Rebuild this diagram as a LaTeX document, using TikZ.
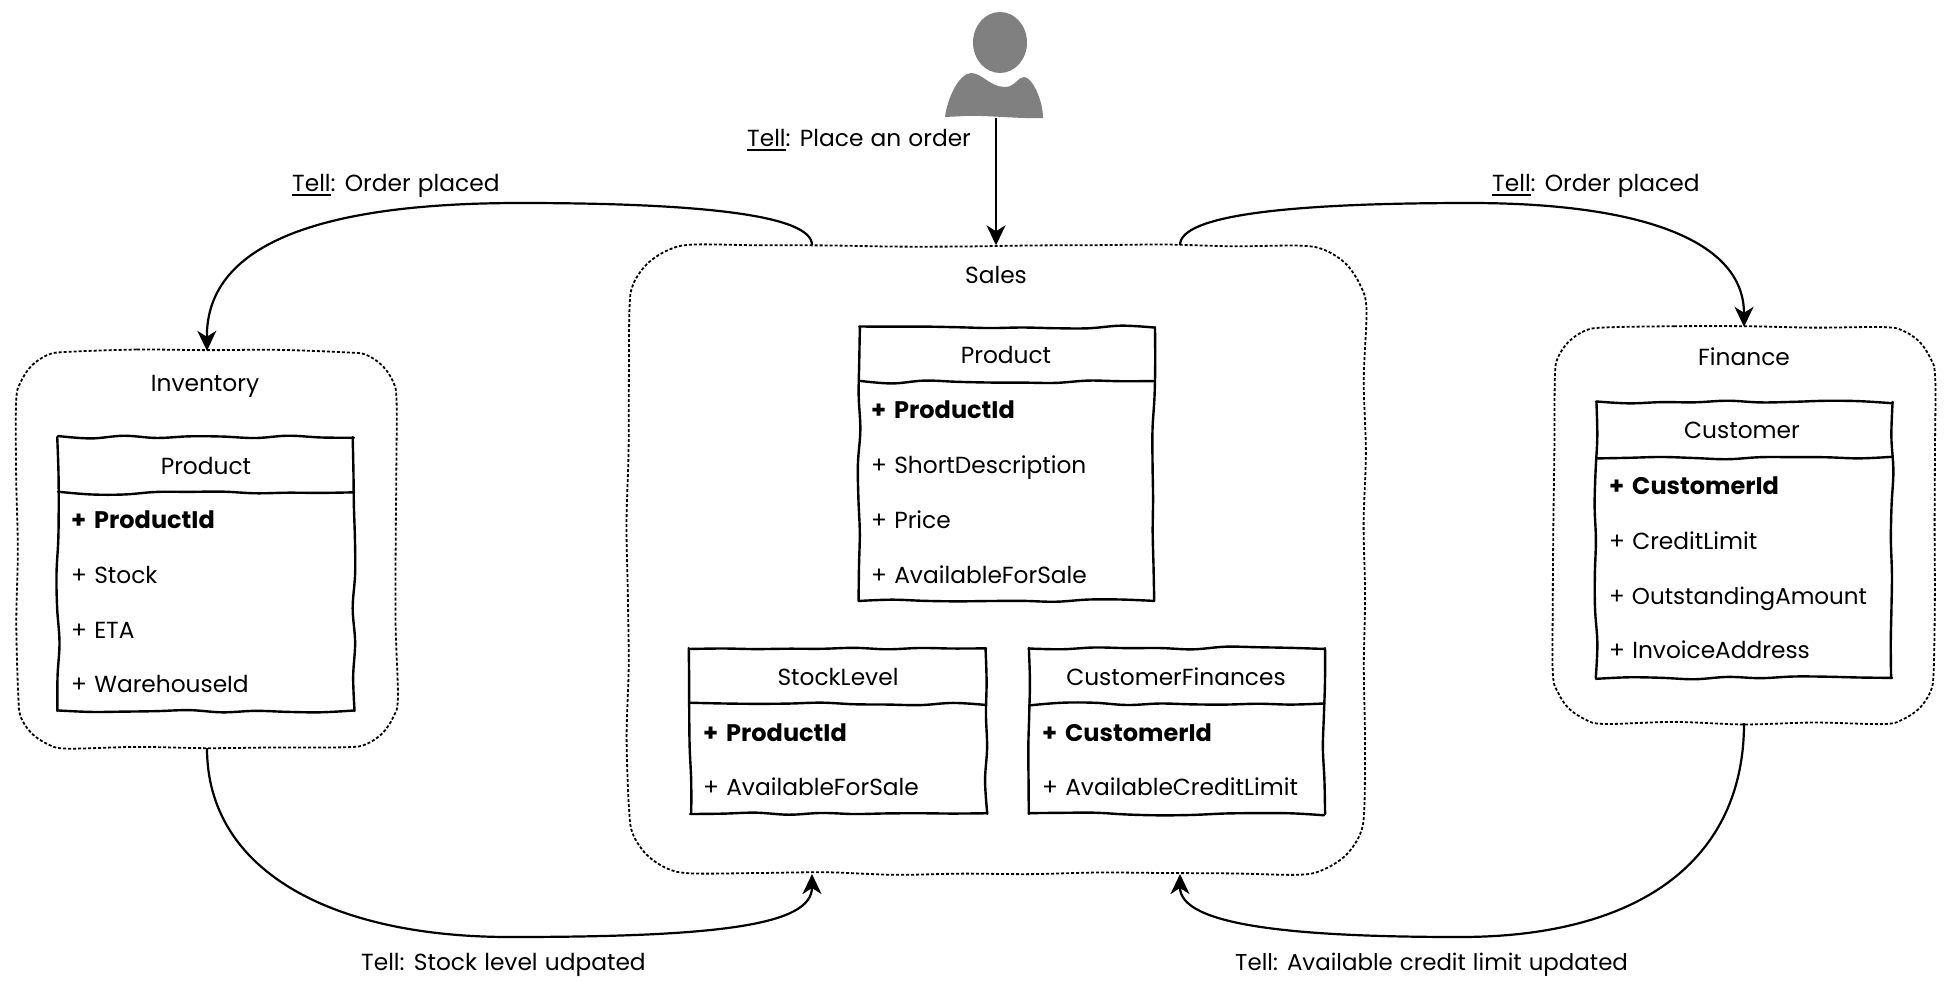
\documentclass[tikz,border=0pt]{standalone}
\usepackage{fontspec}
\setmainfont[WordSpace=1.15]{Poppins}
\usetikzlibrary{arrows.meta,shapes.geometric}
\definecolor{persongray}{HTML}{808080}
\tikzset{
  x=1pt,y=-1pt,
  txt/.style={font=\fontsize{23.3}{26}\selectfont,inner sep=0pt,text=black,text height=21pt,text depth=5pt},
  rowtxt/.style={txt,anchor=west},
  groupbox/.style={inner sep=0pt},
  groupline/.style={draw=black,line width=1.8pt,dash pattern=on 3pt off 2pt},
  tablebox/.style={inner sep=0pt},
  wob/.style={draw=black,line width=2.4pt,line cap=round},
  conn/.style={draw=black,line width=2.2pt},
  arr/.style={conn,-{Stealth[length=20pt,width=19pt,inset=6pt]}}
}
\newcommand{\tl}{\setbox0\hbox{Tell}\rlap{\raisebox{-4.5pt}{\rule{\wd0}{1.8pt}}}\box0}
\newcommand{\keyrow}[1]{\fontsize{24}{26}\selectfont\bfseries +\hspace{0.33em}#1}
\newcommand{\addrun}[5]{%
  \pgfmathtruncatemacro\nn{max(1,round(veclen(#3-#1,#4-#2)/#5))}%
  \foreach \i in {0,...,\nn}{%
    \pgfmathsetmacro\px{#1+(#3-#1)*\i/\nn+1.5*rand*(#2==#4?0:1)}%
    \pgfmathsetmacro\py{#2+(#4-#2)*\i/\nn+1.5*rand*(#1==#3?0:1)}%
    \xdef\pts{\pts(\px,\py)}}}
\newcommand{\addarc}[4]{% centre x, centre y, radius, start angle; quarter turn clockwise on screen
  \foreach \f in {0.25,0.5,0.75}{%
    \pgfmathsetmacro\aa{#4-90*\f}%
    \pgfmathsetmacro\px{#1+#3*cos(\aa)}%
    \pgfmathsetmacro\py{#2-#3*sin(\aa)}%
    \xdef\pts{\pts(\px,\py)}}}
\newcommand{\groupframe}[5]{% x1 y1 x2 y2 radius
  \gdef\pts{}%
  \pgfmathsetmacro\xa{#1+#5}\pgfmathsetmacro\xb{#3-#5}%
  \pgfmathsetmacro\ya{#2+#5}\pgfmathsetmacro\yb{#4-#5}%
  \addrun{\xa}{#2}{\xb}{#2}{70}\addarc{\xb}{\ya}{#5}{90}%
  \addrun{#3}{\ya}{#3}{\yb}{70}\addarc{\xb}{\yb}{#5}{0}%
  \addrun{\xb}{#4}{\xa}{#4}{70}\addarc{\xa}{\yb}{#5}{-90}%
  \addrun{#1}{\yb}{#1}{\ya}{70}\addarc{\xa}{\ya}{#5}{180}%
  \edef\doit{\noexpand\draw[groupline] plot[smooth cycle,tension=0.55] coordinates {\pts};}\doit}
\newcommand{\wavy}[4]{%
  \gdef\pts{}\addrun{#1}{#2}{#3}{#4}{34}%
  \edef\doit{\noexpand\draw[wob] plot[smooth,tension=0.6] coordinates {\pts};}\doit}
\newcommand{\tableframe}[5]{% x1 y1 x2 y2 header line y
  \wavy{#1}{#2}{#3}{#2}\wavy{#3}{#2}{#3}{#4}\wavy{#3}{#4}{#1}{#4}\wavy{#1}{#4}{#1}{#2}\wavy{#1}{#5}{#3}{#5}}
\begin{document}
\begin{tikzpicture}
\pgfmathsetseed{4217}
\path[fill=white] (0,0) rectangle (1950,983);
\useasboundingbox (0,0) rectangle (1950,983);
% groups
\node[groupbox,minimum width=380pt,minimum height=397pt] (inv) at (207,549.5) {};
\node[groupbox,minimum width=736pt,minimum height=628pt] (sales) at (996,559.5) {};
\node[groupbox,minimum width=380pt,minimum height=396pt] (fin) at (1744,525) {};
\groupframe{17}{351}{397}{748}{50}
\groupframe{628}{245.5}{1365}{873.5}{64}
\groupframe{1554}{327}{1934}{723}{50}
\node[txt] (invt) at (205,383) {Inventory};
\node[txt] (salest) at (996,275) {Sales};
\node[txt] (fint) at (1744,357) {Finance};
% Inventory Product
\node[tablebox,minimum width=296pt,minimum height=274pt] (t1) at (206,574) {};
\tableframe{58}{437}{354}{711}{493}
\node[txt] (t1h) at (206,466) {Product};
\node[rowtxt] (t1a) at (71,520) {\keyrow{ProductId}};
\node[rowtxt] (t1b) at (71,575) {+ Stock};
\node[rowtxt] (t1c) at (71,630) {+ ETA};
\node[rowtxt] (t1d) at (71,684) {+ WarehouseId};
% Sales Product
\node[tablebox,minimum width=295pt,minimum height=274pt] (t2) at (1006.5,464) {};
\tableframe{859}{327}{1154}{601}{382}
\node[txt] (t2h) at (1006,355) {Product};
\node[rowtxt] (t2a) at (871,410) {\keyrow{ProductId}};
\node[rowtxt] (t2b) at (871,465) {+ ShortDescription};
\node[rowtxt] (t2c) at (871,520) {+ Price};
\node[rowtxt] (t2d) at (871,575) {+ AvailableForSale};
% StockLevel
\node[tablebox,minimum width=296pt,minimum height=166pt] (t3) at (838,731) {};
\tableframe{690}{648}{986}{814}{704}
\node[txt] (t3h) at (838,677) {StockLevel};
\node[rowtxt] (t3a) at (703,733) {\keyrow{ProductId}};
\node[rowtxt] (t3b) at (703,787) {+ AvailableForSale};
% CustomerFinances
\node[tablebox,minimum width=295pt,minimum height=166pt] (t4) at (1176.5,731) {};
\tableframe{1029}{648}{1324}{814}{704}
\node[txt] (t4h) at (1176,677) {CustomerFinances};
\node[rowtxt] (t4a) at (1042,733) {\keyrow{CustomerId}};
\node[rowtxt] (t4b) at (1042,787) {+ AvailableCreditLimit};
% Customer
\node[tablebox,minimum width=296pt,minimum height=276pt] (t5) at (1744,540) {};
\tableframe{1596}{402}{1892}{678}{458}
\node[txt] (t5h) at (1742,430) {Customer};
\node[rowtxt] (t5a) at (1609,486) {\keyrow{CustomerId}};
\node[rowtxt] (t5b) at (1609,541) {+ CreditLimit};
\node[rowtxt,font=\fontsize{23}{26}\selectfont] (t5c) at (1609,596) {+ OutstandingAmount};
\node[rowtxt] (t5d) at (1609,650) {+ InvoiceAddress};
% person
\node[ellipse,fill=persongray,minimum width=54pt,minimum height=61pt,inner sep=0pt] (head) at (1000,42.5) {};
\fill[persongray] (945,117) .. controls (947,100) and (958,74) .. (971,73)
  .. controls (982,73) and (990,87) .. (1005,87)
  .. controls (1015,87) and (1018,77) .. (1024,77)
  .. controls (1032,77) and (1043,100) .. (1043,118)
  .. controls (1020,119) and (985,115) .. (965,116) -- cycle;
\coordinate (personfoot) at (996,118);
% connector ends
\coordinate (sl) at (812,245);
\coordinate (sr) at (1180,245);
\coordinate (bl) at (812,874);
\coordinate (br) at (1180,874);
% connectors
\draw[arr] (personfoot) -- (sales.north);
\draw[arr] (sl) .. controls (812,215) and (700,203) .. (520,203) .. controls (330,203) and (206,240) .. (inv.north);
\draw[arr] (sr) .. controls (1180,215) and (1290,203) .. (1470,203) .. controls (1640,203) and (1744,240) .. (fin.north);
\draw[arr] (inv.south) .. controls (207,870) and (330,937) .. (510,937) .. controls (720,937) and (812,925) .. (bl);
\draw[arr] (fin.south) .. controls (1744,860) and (1640,937) .. (1460,937) .. controls (1290,937) and (1180,925) .. (br);
% labels
\node[rowtxt] (l1) at (747,138) {\tl: Place an order};
\node[rowtxt] (l2) at (292,183) {\tl: Order placed};
\node[rowtxt] (l3) at (1492,183) {\tl: Order placed};
\node[rowtxt] (l4) at (361,962) {Tell: Stock level udpated};
\node[rowtxt,font=\fontsize{22.9}{26}\selectfont] (l5) at (1235,962) {Tell: Available credit limit updated};
\end{tikzpicture}
\end{document}
